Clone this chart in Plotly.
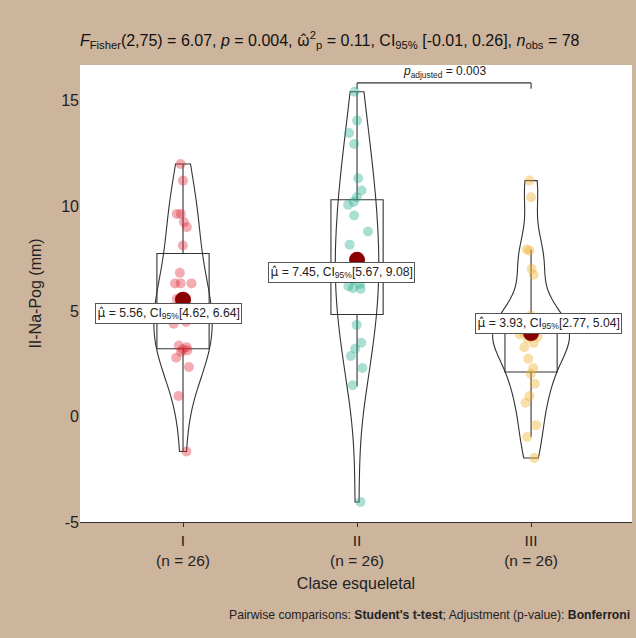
import numpy as np
import plotly.graph_objects as go

# ---------------- data ----------------
categories = ["I", "II", "III"]

clase_I = [12.0, 11.21, 9.63, 9.63, 9.24, 9.0, 8.13, 6.83, 6.33, 6.33, 6.33,
           5.6, 5.2, 4.9, 4.65, 4.5, 4.41, 3.38, 3.3, 3.2, 3.15, 3.08, 2.8,
           2.36, 0.98, -1.65]
clase_II = [15.43, 14.06, 13.47, 12.95, 11.32, 10.74, 10.42, 10.2, 10.06,
            9.55, 8.79, 8.17, 6.94, 6.7, 6.5, 6.3, 6.2, 6.1, 6.07, 4.36, 3.51,
            3.23, 2.88, 2.31, 1.49, -4.05]
clase_III = [11.21, 10.42, 7.94, 7.89, 7.02, 6.74, 4.8, 4.7, 4.6, 4.5, 4.2,
             4.0, 3.9, 3.8, 3.7, 3.5, 3.3, 2.75, 2.31, 2.04, 1.57, 0.98,
             0.66, -0.41, -0.96, -1.96]
groups = [clase_I, clase_II, clase_III]

# box statistics as drawn
box_lower = [-1.65, 1.45, -0.96]
box_q1 = [3.23, 4.85, 2.12]
box_median = [5.0, 6.9, 3.95]
box_q3 = [7.75, 10.3, 4.75]
box_upper = [12.0, 15.43, 7.94]

# mean labels
mean_text = ["5.56", "7.45", "3.93"]
ci_low = ["4.62", "5.67", "2.77"]
ci_high = ["6.64", "9.08", "5.04"]

p_adjusted = "0.003"
pair = ("II", "III")

y_ticks = [-5, 0, 5, 10, 15]

HAT_TITLE = "<span style=\"font-family:'Noto Sans'\">{}&#770;</span>"
HAT_MU = "<span style=\"font-family:'DejaVu Sans'\">{}&#770;</span>"
title_text = ("<i>F</i><sub>Fisher</sub>(2,75) = 6.07, <i>p</i> = 0.004, "
              + HAT_TITLE.format("ω") + "<sup>2</sup><sub>p</sub> = 0.11, CI<sub>95%</sub> [-0.01, 0.26], "
              "<i>n</i><sub>obs</sub> = 78")
caption_text = ("Pairwise comparisons: <b>Student's t-test</b>; "
                "Adjustment (p-value): <b>Bonferroni</b>")
x_title = "Clase esqueletal"
y_title = "II-Na-Pog (mm)"

# ---------------- style ----------------
point_colors = ["rgba(222,38,52,0.38)", "rgba(32,170,140,0.38)", "rgba(238,175,40,0.4)"]
violin_widths = [0.335, 0.25, 0.44]
BG = "#CDB49C"
FONT = "Liberation Sans, Arial, sans-serif"

xpos = list(range(1, len(categories) + 1))

fig = go.Figure()

for i, (g, xp) in enumerate(zip(groups, xpos)):
    xs = [xp] * len(g)
    fig.add_trace(go.Violin(
        x=xs, y=g, scalegroup=f"g{i}", scalemode="width", width=violin_widths[i],
        spanmode="hard", points=False,
        line=dict(color="#333333", width=1.1), fillcolor="rgba(255,255,255,0)",
        box=dict(visible=False), meanline=dict(visible=False),
        showlegend=False, hoverinfo="skip"))
    fig.add_trace(go.Box(
        x=[xp], q1=[box_q1[i]], median=[box_median[i]], q3=[box_q3[i]],
        lowerfence=[box_lower[i]], upperfence=[box_upper[i]],
        width=0.3, whiskerwidth=0, boxpoints=False,
        line=dict(color="#333333", width=1.1), fillcolor="rgba(255,255,255,0)",
        showlegend=False, hoverinfo="skip"))
    fig.add_trace(go.Box(
        x=xs, y=g, width=0.3, boxpoints="all", jitter=0.5, pointpos=0,
        line=dict(color="rgba(0,0,0,0)", width=0), fillcolor="rgba(0,0,0,0)",
        marker=dict(color=point_colors[i], size=10, line=dict(width=0)),
        showlegend=False, hoverinfo="skip"))

means = [float(np.mean(g)) for g in groups]
fig.add_trace(go.Scatter(
    x=xpos, y=means, mode="markers",
    marker=dict(color="#8B0000", size=16, line=dict(width=0)),
    showlegend=False, hoverinfo="skip"))

label_dx = [-0.085, -0.09, 0.10]
label_dy = [-0.65, -0.62, 0.46]
for i, xp in enumerate(xpos):
    fig.add_annotation(
        x=xp + label_dx[i], y=means[i] + label_dy[i], xref="x", yref="y",
        text=HAT_MU.format("μ") + f" = {mean_text[i]}, CI<sub>95%</sub>[{ci_low[i]}, {ci_high[i]}]",
        showarrow=False, bgcolor="white", bordercolor="#555555", borderwidth=1,
        borderpad=1.5, font=dict(family=FONT, size=12.2, color="#222222"))

# pairwise bracket
xa = xpos[categories.index(pair[0])]
xb = xpos[categories.index(pair[1])]
ytop = max(max(g) for g in groups) + 0.42
ydrop = 0.28
for (x0, y0, x1, y1) in [(xa, ytop, xb, ytop), (xa, ytop, xa, ytop - ydrop), (xb, ytop, xb, ytop - ydrop)]:
    fig.add_shape(type="line", x0=x0, y0=y0, x1=x1, y1=y1, xref="x", yref="y",
                  line=dict(color="#333333", width=1.1))
fig.add_annotation(x=(xa + xb) / 2, y=ytop, xref="x", yref="y", yanchor="bottom",
                   yshift=1, text=f"<i>p</i><sub>adjusted</sub> = {p_adjusted}",
                   showarrow=False, font=dict(family=FONT, size=12, color="#222222"))

# caption
fig.add_annotation(x=(227 - 80) / (636 - 84), y=-(615 - 522) / (638 - 65 - 116),
                   xref="paper", yref="paper", showarrow=False,
                   text=caption_text, font=dict(family=FONT, size=12.2, color="#222222"),
                   xanchor="left", yanchor="middle")

ticktext = [f"{c}<br>(n = {len(g)})" for c, g in zip(categories, groups)]

fig.update_layout(
    width=636, height=638,
    paper_bgcolor=BG, plot_bgcolor="white",
    margin=dict(l=80, r=4, t=65, b=116),
    font=dict(family=FONT, size=15, color="#222222"),
    boxmode="overlay", violinmode="overlay",
    title=dict(text=title_text, x=80 / 636, xanchor="left", y=1 - 40 / 638,
               yanchor="middle", font=dict(family=FONT, size=16, color="#111111")),
    xaxis=dict(range=[0.408, 3.58], tickvals=xpos, ticktext=ticktext,
               showline=True, linecolor="#333333", linewidth=1.1,
               ticks="outside", ticklen=4, tickcolor="#333333",
               showgrid=False, zeroline=False,
               title=dict(text=x_title, font=dict(size=16), standoff=10),
               tickfont=dict(size=15.5)),
    yaxis=dict(range=[-5.0, 16.7], tickvals=y_ticks, ticktext=[str(v) for v in y_ticks],
               showline=False, ticks="", showgrid=False, zeroline=False,
               title=dict(text=y_title, font=dict(size=16), standoff=15),
               tickfont=dict(size=16)),
)

fig.write_html("out.html")
